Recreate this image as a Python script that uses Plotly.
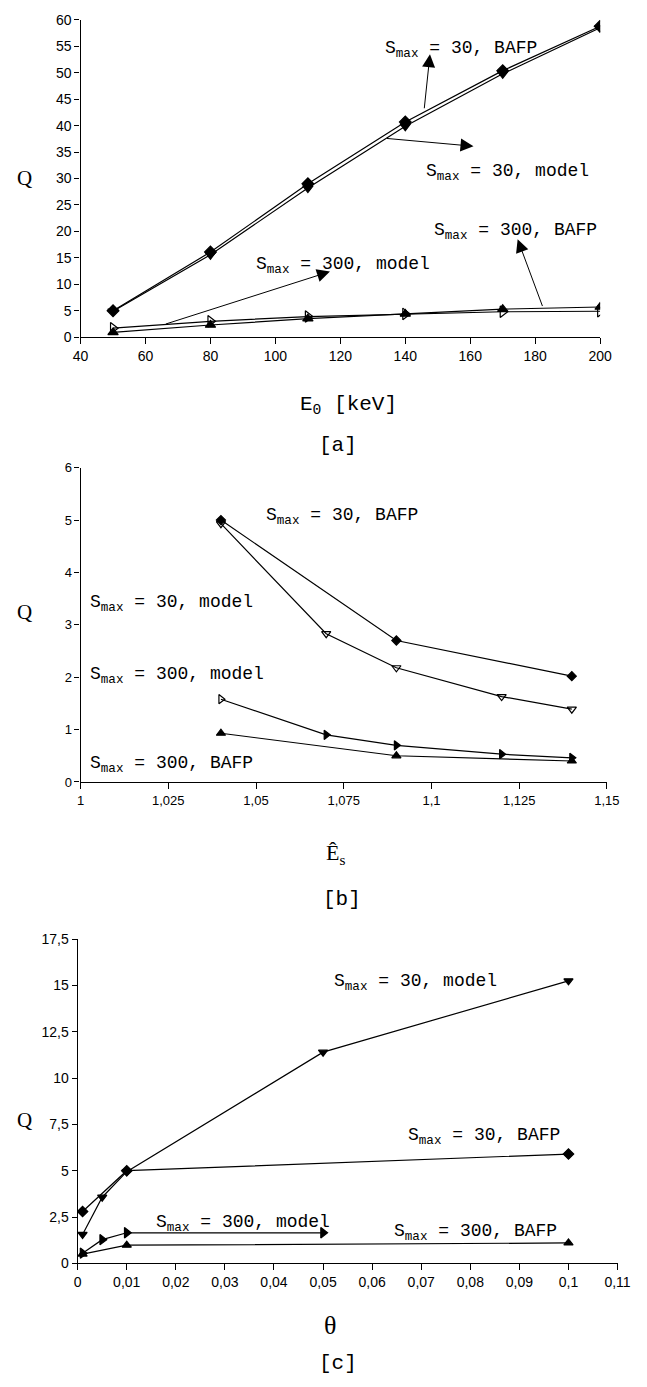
import plotly.graph_objects as go

W, H = 647, 1387

# ---------------- data ----------------
# panel [a]
a_x = [50, 80, 110, 140, 170, 200]
a_s30_bafp = [5.0, 16.1, 29.0, 40.7, 50.4, 58.8]
a_s30_model = [4.9, 15.6, 28.2, 39.9, 49.8, 58.5]
a_s300_model = [1.7, 3.0, 3.9, 4.4, 4.8, 4.9]
a_s300_bafp = [0.9, 2.3, 3.5, 4.4, 5.3, 5.7]
a_xticks = [40, 60, 80, 100, 120, 140, 160, 180, 200]
a_xlabels = ["40", "60", "80", "100", "120", "140", "160", "180", "200"]
a_yticks = [0, 5, 10, 15, 20, 25, 30, 35, 40, 45, 50, 55, 60]
a_ylabels = ["0", "5", "10", "15", "20", "25", "30", "35", "40", "45", "50", "55", "60"]

# panel [b]
b_x_bafp = [1.04, 1.09, 1.14]
b_s30_bafp = [5.0, 2.7, 2.02]
b_x_model = [1.04, 1.07, 1.09, 1.12, 1.14]
b_s30_model = [4.93, 2.83, 2.18, 1.63, 1.39]
b_s300_model = [1.58, 0.9, 0.7, 0.53, 0.46]
b_s300_bafp = [0.93, 0.5, 0.4]
b_xticks = [1, 1.025, 1.05, 1.075, 1.1, 1.125, 1.15]
b_xlabels = ["1", "1,025", "1,05", "1,075", "1,1", "1,125", "1,15"]
b_yticks = [0, 1, 2, 3, 4, 5, 6]
b_ylabels = ["0", "1", "2", "3", "4", "5", "6"]

# panel [c]
c_x_model30 = [0.001, 0.005, 0.01, 0.05, 0.1]
c_s30_model = [1.56, 3.57, 4.95, 11.4, 15.25]
c_x_bafp = [0.001, 0.01, 0.1]
c_s30_bafp = [2.8, 5.0, 5.9]
c_x_model300 = [0.001, 0.005, 0.01, 0.05]
c_s300_model = [0.55, 1.28, 1.65, 1.65]
c_s300_bafp = [0.5, 0.98, 1.1]
c_xticks = [0, 0.01, 0.02, 0.03, 0.04, 0.05, 0.06, 0.07, 0.08, 0.09, 0.1, 0.11]
c_xlabels = ["0", "0,01", "0,02", "0,03", "0,04", "0,05", "0,06", "0,07", "0,08", "0,09", "0,1", "0,11"]
c_yticks = [0, 2.5, 5, 7.5, 10, 12.5, 15, 17.5]
c_ylabels = ["0", "2,5", "5", "7,5", "10", "12,5", "15", "17,5"]


def px(x):
    return x / W


def py(y):
    return 1 - y / H


fig = go.Figure()

LINE = dict(color="black", width=1.2)


def add(x, y, sym, size, xa, ya):
    fig.add_trace(go.Scatter(
        x=x, y=y, mode="lines+markers", line=LINE,
        marker=dict(symbol=sym, size=size, color="black",
                    line=dict(color="black", width=1.2)),
        xaxis=xa, yaxis=ya, showlegend=False, hoverinfo="skip"))


# panel a
add(a_x, a_s30_bafp, "diamond", 9, "x", "y")
add(a_x, a_s30_model, "triangle-down", 9, "x", "y")
add(a_x, a_s300_model, "triangle-right-open", 10, "x", "y")
add(a_x, a_s300_bafp, "triangle-up", 9, "x", "y")

# panel b
add(b_x_bafp, b_s30_bafp, "diamond", 7, "x2", "y2")
add(b_x_model, b_s30_model, "triangle-down-open", 8, "x2", "y2")
fig.add_trace(go.Scatter(
    x=b_x_model, y=b_s300_model, mode="lines+markers", line=LINE,
    marker=dict(symbol=["triangle-right-open"] + ["triangle-right"] * 4, size=8,
                color="black", line=dict(color="black", width=1.2)),
    xaxis="x2", yaxis="y2", showlegend=False, hoverinfo="skip"))
add(b_x_bafp, b_s300_bafp, "triangle-up", 8, "x2", "y2")

# panel c
add(c_x_model30, c_s30_model, "triangle-down", 8, "x3", "y3")
add(c_x_bafp, c_s30_bafp, "diamond", 8, "x3", "y3")
add(c_x_model300, c_s300_model, "triangle-right", 9, "x3", "y3")
add(c_x_bafp, c_s300_bafp, "triangle-up", 8, "x3", "y3")

TICKFONT = dict(family="Liberation Sans", size=14, color="black")


def xax(lo, hi, rng, vals, labels, anchor, fs=14):
    return dict(domain=[px(lo), px(hi)], range=rng, anchor=anchor,
                tickvals=vals, ticktext=labels, showline=True,
                linecolor="black", linewidth=1.2, ticks="outside",
                ticklen=6, tickcolor="black", tickwidth=1.2,
                showgrid=False, zeroline=False,
                tickfont=dict(family="Liberation Sans", size=fs, color="black"))


def yax(top, bottom, rng, vals, labels, anchor, fs=14):
    return dict(domain=[py(bottom), py(top)], range=rng, anchor=anchor,
                tickvals=vals, ticktext=labels, showline=True,
                linecolor="black", linewidth=1.2, ticks="outside",
                ticklen=5, tickcolor="black", tickwidth=1.2,
                showgrid=False, zeroline=False,
                tickfont=dict(family="Liberation Sans", size=fs, color="black"))


fig.update_layout(
    width=W, height=H,
    margin=dict(l=0, r=0, t=0, b=0),
    paper_bgcolor="white", plot_bgcolor="white",
    separators=", ",
    xaxis=xax(75, 612, [40, 200], a_xticks, a_xlabels, "y"),
    yaxis=yax(12, 333, [0, 60], a_yticks, a_ylabels, "x"),
    xaxis2=xax(75, 619, [1, 1.15], b_xticks, b_xlabels, "y2", 13),
    yaxis2=yax(465, 783, [0, 6], b_yticks, b_ylabels, "x2", 13),
    xaxis3=xax(72, 630, [0, 0.11], c_xticks, c_xlabels, "y3"),
    yaxis3=yax(942, 1270, [0, 17.5], c_yticks, c_ylabels, "x3"),
)

MONO = dict(family="Liberation Mono", size=18, color="black")
annots = []


def label(text, x, y):
    annots.append(dict(text=text, x=px(x), y=py(y), xref="paper", yref="paper",
                       xanchor="left", yanchor="middle", showarrow=False, font=MONO))


def ctext(text, x, y, font):
    annots.append(dict(text=text, x=px(x), y=py(y), xref="paper", yref="paper",
                       xanchor="center", yanchor="middle", showarrow=False, font=font))


def arrow(x0, y0, x1, y1, xr, yr):
    annots.append(dict(text="", x=x1, y=y1, ax=x0, ay=y0, xref=xr, yref=yr,
                       axref=xr, ayref=yr, showarrow=True, arrowhead=2,
                       arrowsize=2.6, arrowwidth=1, arrowcolor="black"))


# panel a labels
label("S<sub>max</sub> = 30, BAFP", 388, 42)
label("S<sub>max</sub> = 30, model", 430, 166)
label("S<sub>max</sub> = 300, BAFP", 438, 226)
label("S<sub>max</sub> = 300, model", 254, 261)
arrow(145.8, 43.0, 147.6, 53.5, "x", "y")
arrow(133.9, 37.6, 161.0, 36.1, "x", "y")
arrow(182.4, 5.6, 174.6, 18.5, "x", "y")
arrow(65.8, 2.4, 116.8, 12.4, "x", "y")

# panel b labels
label("S<sub>max</sub> = 30, BAFP", 265, 514)
label("S<sub>max</sub> = 30, model", 83, 602)
label("S<sub>max</sub> = 300, model", 83, 675)
label("S<sub>max</sub> = 300, BAFP", 83, 765)

# panel c labels
label("S<sub>max</sub> = 30, model", 335, 986)
label("S<sub>max</sub> = 30, BAFP", 411, 1142)
label("S<sub>max</sub> = 300, model", 151, 1230)
label("S<sub>max</sub> = 300, BAFP", 397, 1239)

SERIF = dict(family="Liberation Serif", size=21, color="black")
MONO_T = dict(family="Liberation Mono", size=21, color="black")

# axis titles and panel tags
ctext("Q", 17, 172, SERIF)
ctext("Q", 17, 611, SERIF)
ctext("Q", 17, 1125, SERIF)
ctext("E<sub>0</sub> [keV]", 352, 402, MONO_T)
ctext("[a]", 341, 443, MONO_T)
ctext("Ê<sub>s</sub>", 338, 856, dict(family="Liberation Serif", size=22, color="black"))
ctext("[b]", 345, 902, MONO_T)
ctext("θ", 333, 1333, dict(family="Liberation Serif", size=26, color="black"))
ctext("[c]", 341, 1371, MONO_T)

fig.update_layout(annotations=annots)

fig.write_html("out.html")
